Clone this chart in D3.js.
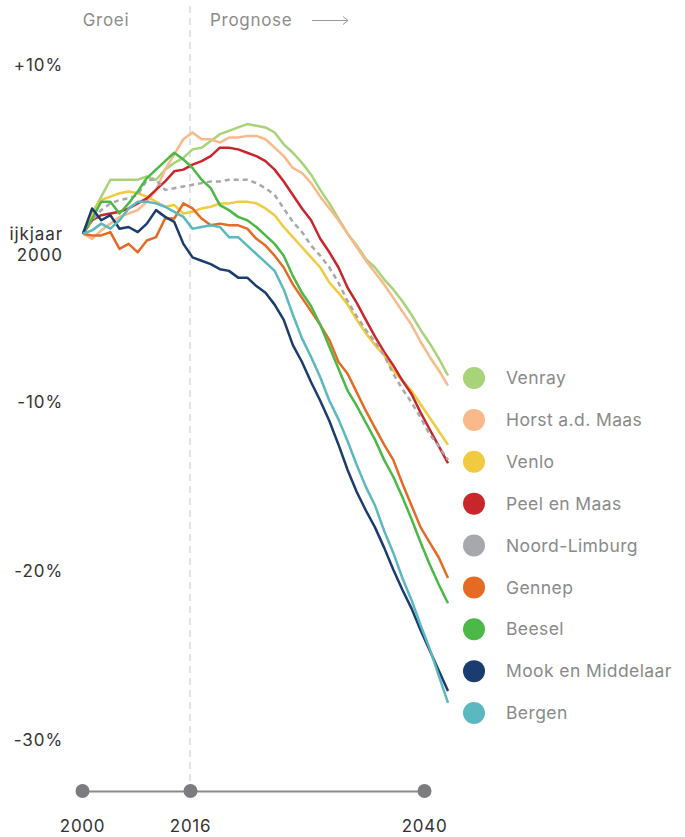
<!DOCTYPE html>
<html>
<head>
<meta charset="utf-8">
<script src="https://cdn.jsdelivr.net/npm/d3@7"></script>
<style>
  body { margin: 0; background: #fff; }
  #wrapper text { font-family: Inter, "Noto Sans", sans-serif; }
</style>
</head>
<body>
<div id="wrapper"></div>
<script>
// data: % change against 2000, yearly 2000-2040
const years = d3.range(2000, 2041);
const municipalities = ["Venray", "Horst a.d. Maas", "Venlo", "Peel en Maas", "Noord-Limburg", "Gennep", "Beesel", "Mook en Middelaar", "Bergen"];
const colors = ["#a8d379", "#f9b98a", "#f0cb3f", "#c8262b", "#a7a8ac", "#e56b24", "#4bb847", "#1a3c6e", "#5bb8bf"];

const venray = [0,1.2,2.2,3.2,3.2,3.2,3.2,3.4,3.2,3.8,4.2,4.5,5.0,5.1,5.5,5.9,6.1,6.3,6.5,6.4,6.3,6.0,5.3,4.8,4.2,3.5,2.6,1.8,0.9,0.0,-0.7,-1.5,-2.0,-2.7,-3.3,-4.0,-4.8,-5.7,-6.5,-7.4,-8.4];
const horst = [0,-0.3,0.2,0.6,1.0,1.2,1.4,1.9,2.6,3.8,4.7,5.6,6.0,5.6,5.6,5.4,5.7,5.7,5.8,5.8,5.6,5.1,4.6,3.9,3.6,3.0,2.2,1.5,0.8,0.0,-0.8,-1.6,-2.3,-3.0,-3.8,-4.6,-5.4,-6.4,-7.3,-8.1,-9.0];
const venlo = [0,1.1,2.0,2.2,2.4,2.5,2.4,2.2,1.9,1.6,1.7,1.2,1.3,1.5,1.6,1.8,1.8,1.9,1.9,1.8,1.5,1.1,0.4,-0.2,-0.8,-1.4,-2.0,-2.9,-3.5,-4.2,-5.1,-5.9,-6.6,-7.2,-8.1,-8.7,-9.3,-10.1,-10.9,-11.7,-12.5];
const peelEnMaas = [0,0.8,1.1,1.2,1.3,1.5,1.8,2.1,2.6,3.1,3.7,3.8,4.1,4.3,4.6,5.1,5.1,5.0,4.8,4.6,4.3,3.8,3.1,2.3,1.5,0.8,-0.3,-1.1,-2.0,-3.2,-4.1,-5.1,-6.1,-7.0,-7.8,-8.7,-9.5,-10.6,-11.6,-12.6,-13.6];
const noordLimburg = [0,0.8,1.4,1.8,2.0,2.1,2.3,3.2,3.2,2.6,2.7,2.8,2.9,3.0,3.1,3.1,3.2,3.2,3.2,3.0,2.7,2.3,1.5,0.7,0.1,-0.7,-1.3,-2.0,-2.9,-4.0,-4.9,-5.7,-6.4,-7.2,-8.3,-9.2,-10.0,-10.9,-11.9,-12.6,-13.4];
const gennep = [0,-0.1,-0.1,0.1,-0.9,-0.6,-1.1,-0.4,-0.2,0.9,0.9,1.8,1.5,0.9,0.5,0.6,0.5,0.5,0.3,-0.3,-0.7,-1.3,-2.0,-3.0,-3.8,-4.6,-5.4,-6.3,-7.6,-8.3,-9.4,-10.5,-11.5,-12.5,-13.4,-14.8,-16.1,-17.4,-18.3,-19.2,-20.4];
const beesel = [0,0.9,1.9,1.9,1.2,1.8,2.5,3.3,3.8,4.3,4.8,4.4,3.9,3.2,2.7,1.7,1.4,1.0,0.8,0.4,-0.1,-0.6,-1.3,-2.5,-3.5,-4.3,-5.4,-6.7,-8.0,-9.3,-10.2,-11.2,-12.2,-13.4,-14.4,-15.6,-16.9,-18.3,-19.6,-20.8,-21.9];
const mook = [0,1.5,0.8,1.1,0.3,0.4,0.1,0.6,1.4,1.0,0.7,-0.6,-1.4,-1.6,-1.8,-2.1,-2.2,-2.6,-2.6,-3.1,-3.5,-4.2,-5.1,-6.6,-7.6,-8.8,-9.9,-11.1,-12.5,-14.0,-15.3,-16.4,-17.4,-18.6,-19.9,-21.1,-22.2,-23.5,-24.7,-25.9,-27.1];
const bergen = [0,0.2,0.6,0.3,0.8,1.5,1.9,1.9,1.8,1.6,1.3,1.0,0.3,0.4,0.5,0.4,-0.2,-0.2,-0.7,-1.2,-1.7,-2.2,-3.3,-4.8,-6.2,-7.3,-8.5,-9.9,-11.0,-12.3,-13.7,-15.0,-16.1,-17.6,-18.9,-20.4,-21.7,-23.2,-24.6,-26.2,-27.8];

const yTicks = [10, 0, -10, -20, -30];
const timelineYears = [2000, 2016, 2040];
const splitYear = 2016;

function drawChart() {
  const dimensions = { width: 685, height: 837 };

  const seriesValues = [venray, horst, venlo, peelEnMaas, noordLimburg, gennep, beesel, mook, bergen];
  const series = municipalities.map((name, i) => ({
    name,
    color: colors[i],
    dashed: name === "Noord-Limburg",
    values: years.map((year, j) => ({ year, value: seriesValues[i][j] })),
  }));

  const wrapper = d3
    .select("#wrapper")
    .append("svg")
    .attr("width", dimensions.width)
    .attr("height", dimensions.height);

  // schalen
  const xScale = d3.scaleLinear().domain([2000, 2040]).range([83, 448]);
  const yScale = d3.scaleLinear().domain([-30, 10]).range([740, 65]);
  const timeScale = d3.scaleLinear().domain(timelineYears).range([82, 190, 424]);

  // scheidingslijn groei / prognose
  wrapper
    .append("line")
    .attr("x1", timeScale(splitYear))
    .attr("x2", timeScale(splitYear))
    .attr("y1", 6)
    .attr("y2", 790)
    .attr("stroke", "#d2d2d2")
    .attr("stroke-width", 1.2)
    .style("stroke-dasharray", "7px 5px");

  wrapper.append("text")
    .attr("x", 106).attr("y", 26)
    .attr("text-anchor", "middle")
    .style("font-size", "17px")
    .style("letter-spacing", "0.7px")
    .attr("fill", "#8c8c8c")
    .text("Groei");

  wrapper.append("text")
    .attr("x", 210).attr("y", 26)
    .style("font-size", "17px")
    .style("letter-spacing", "0.7px")
    .attr("fill", "#8c8c8c")
    .text("Prognose");

  const arrow = wrapper.append("g").attr("stroke", "#9a9a9a").attr("stroke-width", 1).attr("fill", "none");
  arrow.append("line").attr("x1", 312).attr("x2", 348).attr("y1", 20.5).attr("y2", 20.5);
  arrow.append("polyline").attr("points", "343,16.5 348,20.5 343,24.5");

  // y-as
  const yAxis = wrapper
    .append("g")
    .attr("transform", "translate(63,0)")
    .call(
      d3.axisLeft(yScale)
        .tickValues(yTicks)
        .tickSize(0)
        .tickPadding(0)
        .tickFormat((d) => (d > 0 ? `+${d}%` : `${d}%`))
    );
  yAxis.select(".domain").remove();
  yAxis.selectAll("text")
    .style("font-size", "17px")
    .style("letter-spacing", "0.9px")
    .attr("fill", "#333");
  yAxis.selectAll(".tick")
    .filter((d) => d === 0)
    .select("text")
    .text(null)
    .attr("dy", null)
    .call((t) => {
      t.append("tspan").attr("x", 0).attr("y", 6).text("ijkjaar");
      t.append("tspan").attr("x", 0).attr("y", 27).text("2000");
    });

  // lijnen
  const lineGenerator = d3
    .line()
    .x((d) => xScale(d.year))
    .y((d) => yScale(d.value));

  wrapper
    .append("g")
    .selectAll("path")
    .data(series)
    .enter()
    .append("path")
    .attr("d", (d) => lineGenerator(d.values))
    .attr("fill", "none")
    .attr("stroke", (d) => d.color)
    .attr("stroke-width", 2.5)
    .attr("stroke-linejoin", "round")
    .style("stroke-dasharray", (d) => (d.dashed ? "5px 4px" : null));

  // legenda
  const legendY = d3.scalePoint().domain(municipalities).range([378, 713]);
  const legend = wrapper
    .append("g")
    .selectAll("g")
    .data(series)
    .enter()
    .append("g")
    .attr("transform", (d) => `translate(474,${legendY(d.name)})`);
  legend.append("circle").attr("r", 11).attr("fill", (d) => d.color);
  legend.append("text")
    .attr("x", 32)
    .attr("dy", "0.35em")
    .style("font-size", "17.5px")
    .style("letter-spacing", "0.4px")
    .attr("fill", "#8a8a8a")
    .text((d) => d.name);

  // tijdlijn onderaan
  const timeline = wrapper
    .append("g")
    .attr("transform", "translate(0,791)")
    .call(
      d3.axisBottom(timeScale)
        .tickValues(timelineYears)
        .tickSize(0)
        .tickPadding(29)
        .tickFormat(d3.format("d"))
    );
  timeline.select(".domain").attr("stroke", "#8a8a8e").attr("stroke-width", 2);
  timeline.selectAll(".tick")
    .append("circle")
    .attr("r", 7)
    .attr("fill", "#7c7c80");
  timeline.selectAll("text")
    .style("font-size", "17px")
    .style("letter-spacing", "0.7px")
    .attr("fill", "#333");
}
drawChart();
</script>
</body>
</html>
